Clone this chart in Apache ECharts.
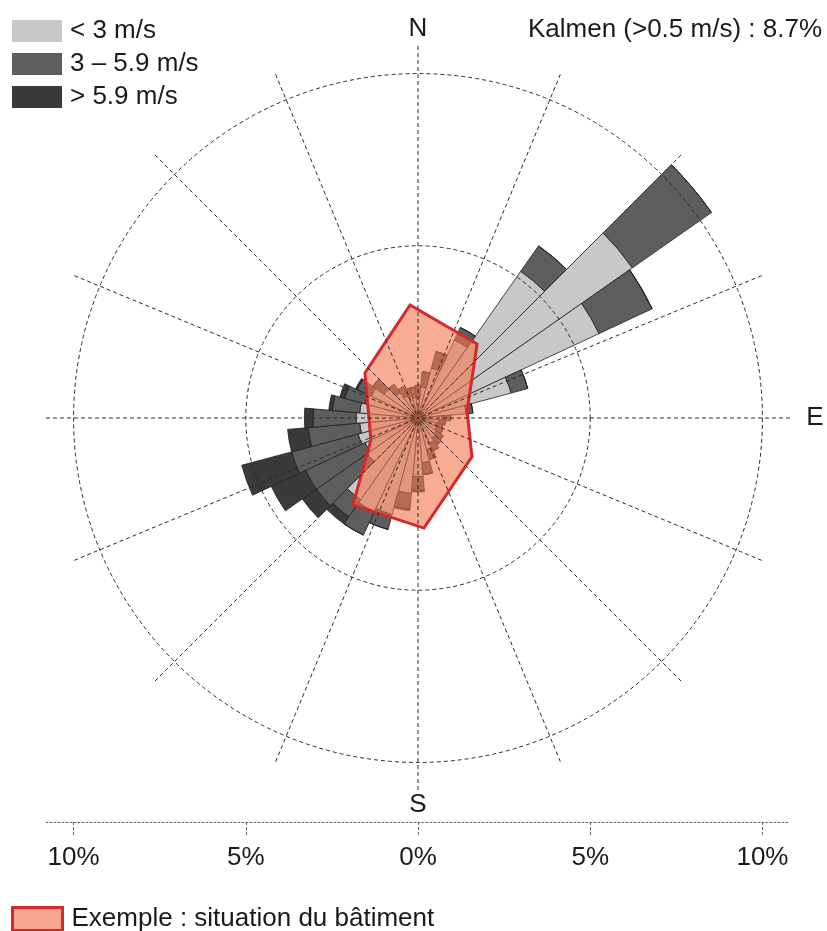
<!DOCTYPE html>
<html>
<head>
<meta charset="utf-8">
<title>Windrose</title>
<script src="https://cdn.jsdelivr.net/npm/echarts@6/dist/echarts.min.js"></script>
<style>
  html, body { margin: 0; padding: 0; background: #fff; }
  #chart { width: 827px; height: 931px; }
</style>
</head>
<body>
<div id="chart"></div>
<script>
// sectors, degrees clockwise from north
var directions = ['0', '10', '20', '30', '40', '50', '60', '70', '80', '90', '100', '110',
  '120', '130', '140', '150', '160', '170', '180', '190', '200', '210', '220', '230',
  '240', '250', '260', '270', '280', '290', '300', '310', '320', '330', '340', '350'];

// share of hours (%) per sector and speed class
var slow = [0.6, 0.9, 1.5, 2.5, 5.2, 7.6, 5.8, 2.8, 1.4, 0.7, 0.6, 0.55,
  0.6, 0.65, 0.7, 0.8, 0.95, 1.3, 1.7, 2.2, 2.9, 3.0, 2.9, 1.8,
  1.7, 1.8, 1.7, 1.8, 1.7, 1.6, 1.5, 1.2, 0.9, 0.7, 0.65, 0.6];
var medium = [0.35, 0.45, 0.5, 0.4, 0.9, 2.8, 1.7, 0.5, 0.2, 0.25, 0.2, 0.2,
  0.2, 0.25, 0.25, 0.25, 0.3, 0.35, 0.4, 0.45, 0.45, 0.75, 0.6, 1.8,
  1.9, 2.0, 1.5, 1.25, 0.8, 0.6, 0.45, 0.4, 0.3, 0.3, 0.25, 0.3];
var fast = [0, 0, 0, 0, 0, 0, 0, 0, 0, 0, 0, 0,
  0, 0, 0, 0, 0, 0, 0.05, 0.05, 0, 0, 0.25, 0.5,
  1.1, 1.5, 0.6, 0.25, 0.1, 0.15, 0.05, 0, 0, 0, 0, 0];
var speedClasses = ['< 3 m/s', '3 – 5.9 m/s', '> 5.9 m/s'];

// building example outline (angle in degrees, radius in %)
var buildingAngles = [356, 38.6, 81.9, 125.8, 176.9, 216.8, 244.9, 310.3, 356];
var buildingShares = [3.29, 2.75, 1.44, 1.93, 3.2, 3.15, 1.51, 2.02, 3.29];
var buildingLabel = 'Exemple : situation du bâtiment';

var scaleTicks = [-10, -5, 0, 5, 10];
var calmLabel = 'Kalmen (>0.5 m/s) : 8.7%';

var FONT = '"Liberation Sans", Arial, sans-serif';
var CX = 418, CY = 418, R = 372, RMAX = 10.8;
var dashed = { color: '#2a2a2a', width: 1, type: [4, 3] };
var outline = { borderColor: '#1e1e1e', borderWidth: 0.8 };

function label(text, x, y, align) {
  return {
    type: 'text', x: x, y: y, silent: true,
    style: { text: text, align: align || 'center', verticalAlign: 'middle',
      fontSize: 26, fontFamily: FONT, fill: '#1a1a1a' }
  };
}

var chart = echarts.init(document.getElementById('chart'));
chart.setOption({
  animation: false,
  textStyle: { fontFamily: FONT },
  polar: [
    { center: [CX, CY], radius: R },
    { center: [CX, CY], radius: R * 10 / RMAX },
    { center: [CX, CY], radius: R }
  ],
  angleAxis: [
    { polarIndex: 0, type: 'category', data: directions, startAngle: 95, clockwise: true, show: false },
    { polarIndex: 1, type: 'value', min: 0, max: 360, show: false },
    {
      polarIndex: 2, type: 'value', min: 0, max: 360, interval: 22.5, startAngle: 90, clockwise: true, z: 5,
      axisLine: { show: false }, axisTick: { show: false }, axisLabel: { show: false },
      splitLine: { show: true, lineStyle: dashed }
    }
  ],
  radiusAxis: [
    { polarIndex: 0, min: 0, max: RMAX, show: false },
    {
      polarIndex: 1, min: 0, max: 10, interval: 5, z: 5,
      axisLine: { show: false }, axisTick: { show: false }, axisLabel: { show: false },
      splitLine: { show: true, lineStyle: dashed }
    },
    { polarIndex: 2, min: 0, max: RMAX, show: false }
  ],
  grid: { left: CX - R, width: 2 * R, top: 790, height: 32 },
  xAxis: {
    type: 'value', min: -RMAX, max: RMAX,
    axisLine: { onZero: false, lineStyle: { color: '#666', width: 1, type: [2, 2] } },
    axisTick: { customValues: scaleTicks, length: 14, lineStyle: { color: '#666', type: [3, 2] } },
    axisLabel: {
      customValues: scaleTicks, margin: 23, fontSize: 26, color: '#1a1a1a',
      formatter: function (v) { return Math.abs(v) + '%'; }
    },
    splitLine: { show: false }
  },
  yAxis: { type: 'value', show: false },
  legend: [
    {
      data: speedClasses, orient: 'vertical', left: 7, top: 13, icon: 'rect',
      itemWidth: 50, itemHeight: 22, itemGap: 7, selectedMode: false,
      itemStyle: { borderWidth: 0 },
      textStyle: { fontSize: 26, color: '#1a1a1a', lineHeight: 22, padding: [0, 0, 0, 3] }
    },
    {
      data: [{ name: buildingLabel, itemStyle: { color: '#f6a690', borderColor: '#d42a2a', borderWidth: 3 } }],
      left: 6, top: 901, icon: 'rect', itemWidth: 50, itemHeight: 23, selectedMode: false,
      textStyle: { fontSize: 26, color: '#1a1a1a', padding: [0, 0, 0, 4] }
    }
  ],
  graphic: [
    label('N', CX, 29),
    label('E', 815, CY),
    label('S', CX, 805),
    label(calmLabel, 822, 30, 'right')
  ],
  series: [
    {
      type: 'bar', name: speedClasses[0], coordinateSystem: 'polar', polarIndex: 0, stack: 'wind',
      barCategoryGap: '0%', data: slow, itemStyle: Object.assign({ color: '#c8c8c8' }, outline)
    },
    {
      type: 'bar', name: speedClasses[1], coordinateSystem: 'polar', polarIndex: 0, stack: 'wind',
      barCategoryGap: '0%', data: medium, itemStyle: Object.assign({ color: '#5e5e5e' }, outline)
    },
    {
      type: 'bar', name: speedClasses[2], coordinateSystem: 'polar', polarIndex: 0, stack: 'wind',
      barCategoryGap: '0%', data: fast, itemStyle: Object.assign({ color: '#3a3a3a' }, outline)
    },
    {
      type: 'custom', name: buildingLabel, coordinateSystem: 'polar', polarIndex: 2, z: 3,
      data: [[0, 0]], clip: false,
      itemStyle: { color: '#f6a690' },
      renderItem: function (params, api) {
        var pts = buildingAngles.map(function (a, i) { return api.coord([buildingShares[i], a]); });
        return {
          type: 'polygon', shape: { points: pts },
          style: { fill: 'rgba(243,117,77,0.6)', stroke: '#d42a2a', lineWidth: 3, lineJoin: 'miter' }
        };
      }
    }
  ]
});
</script>
</body>
</html>
